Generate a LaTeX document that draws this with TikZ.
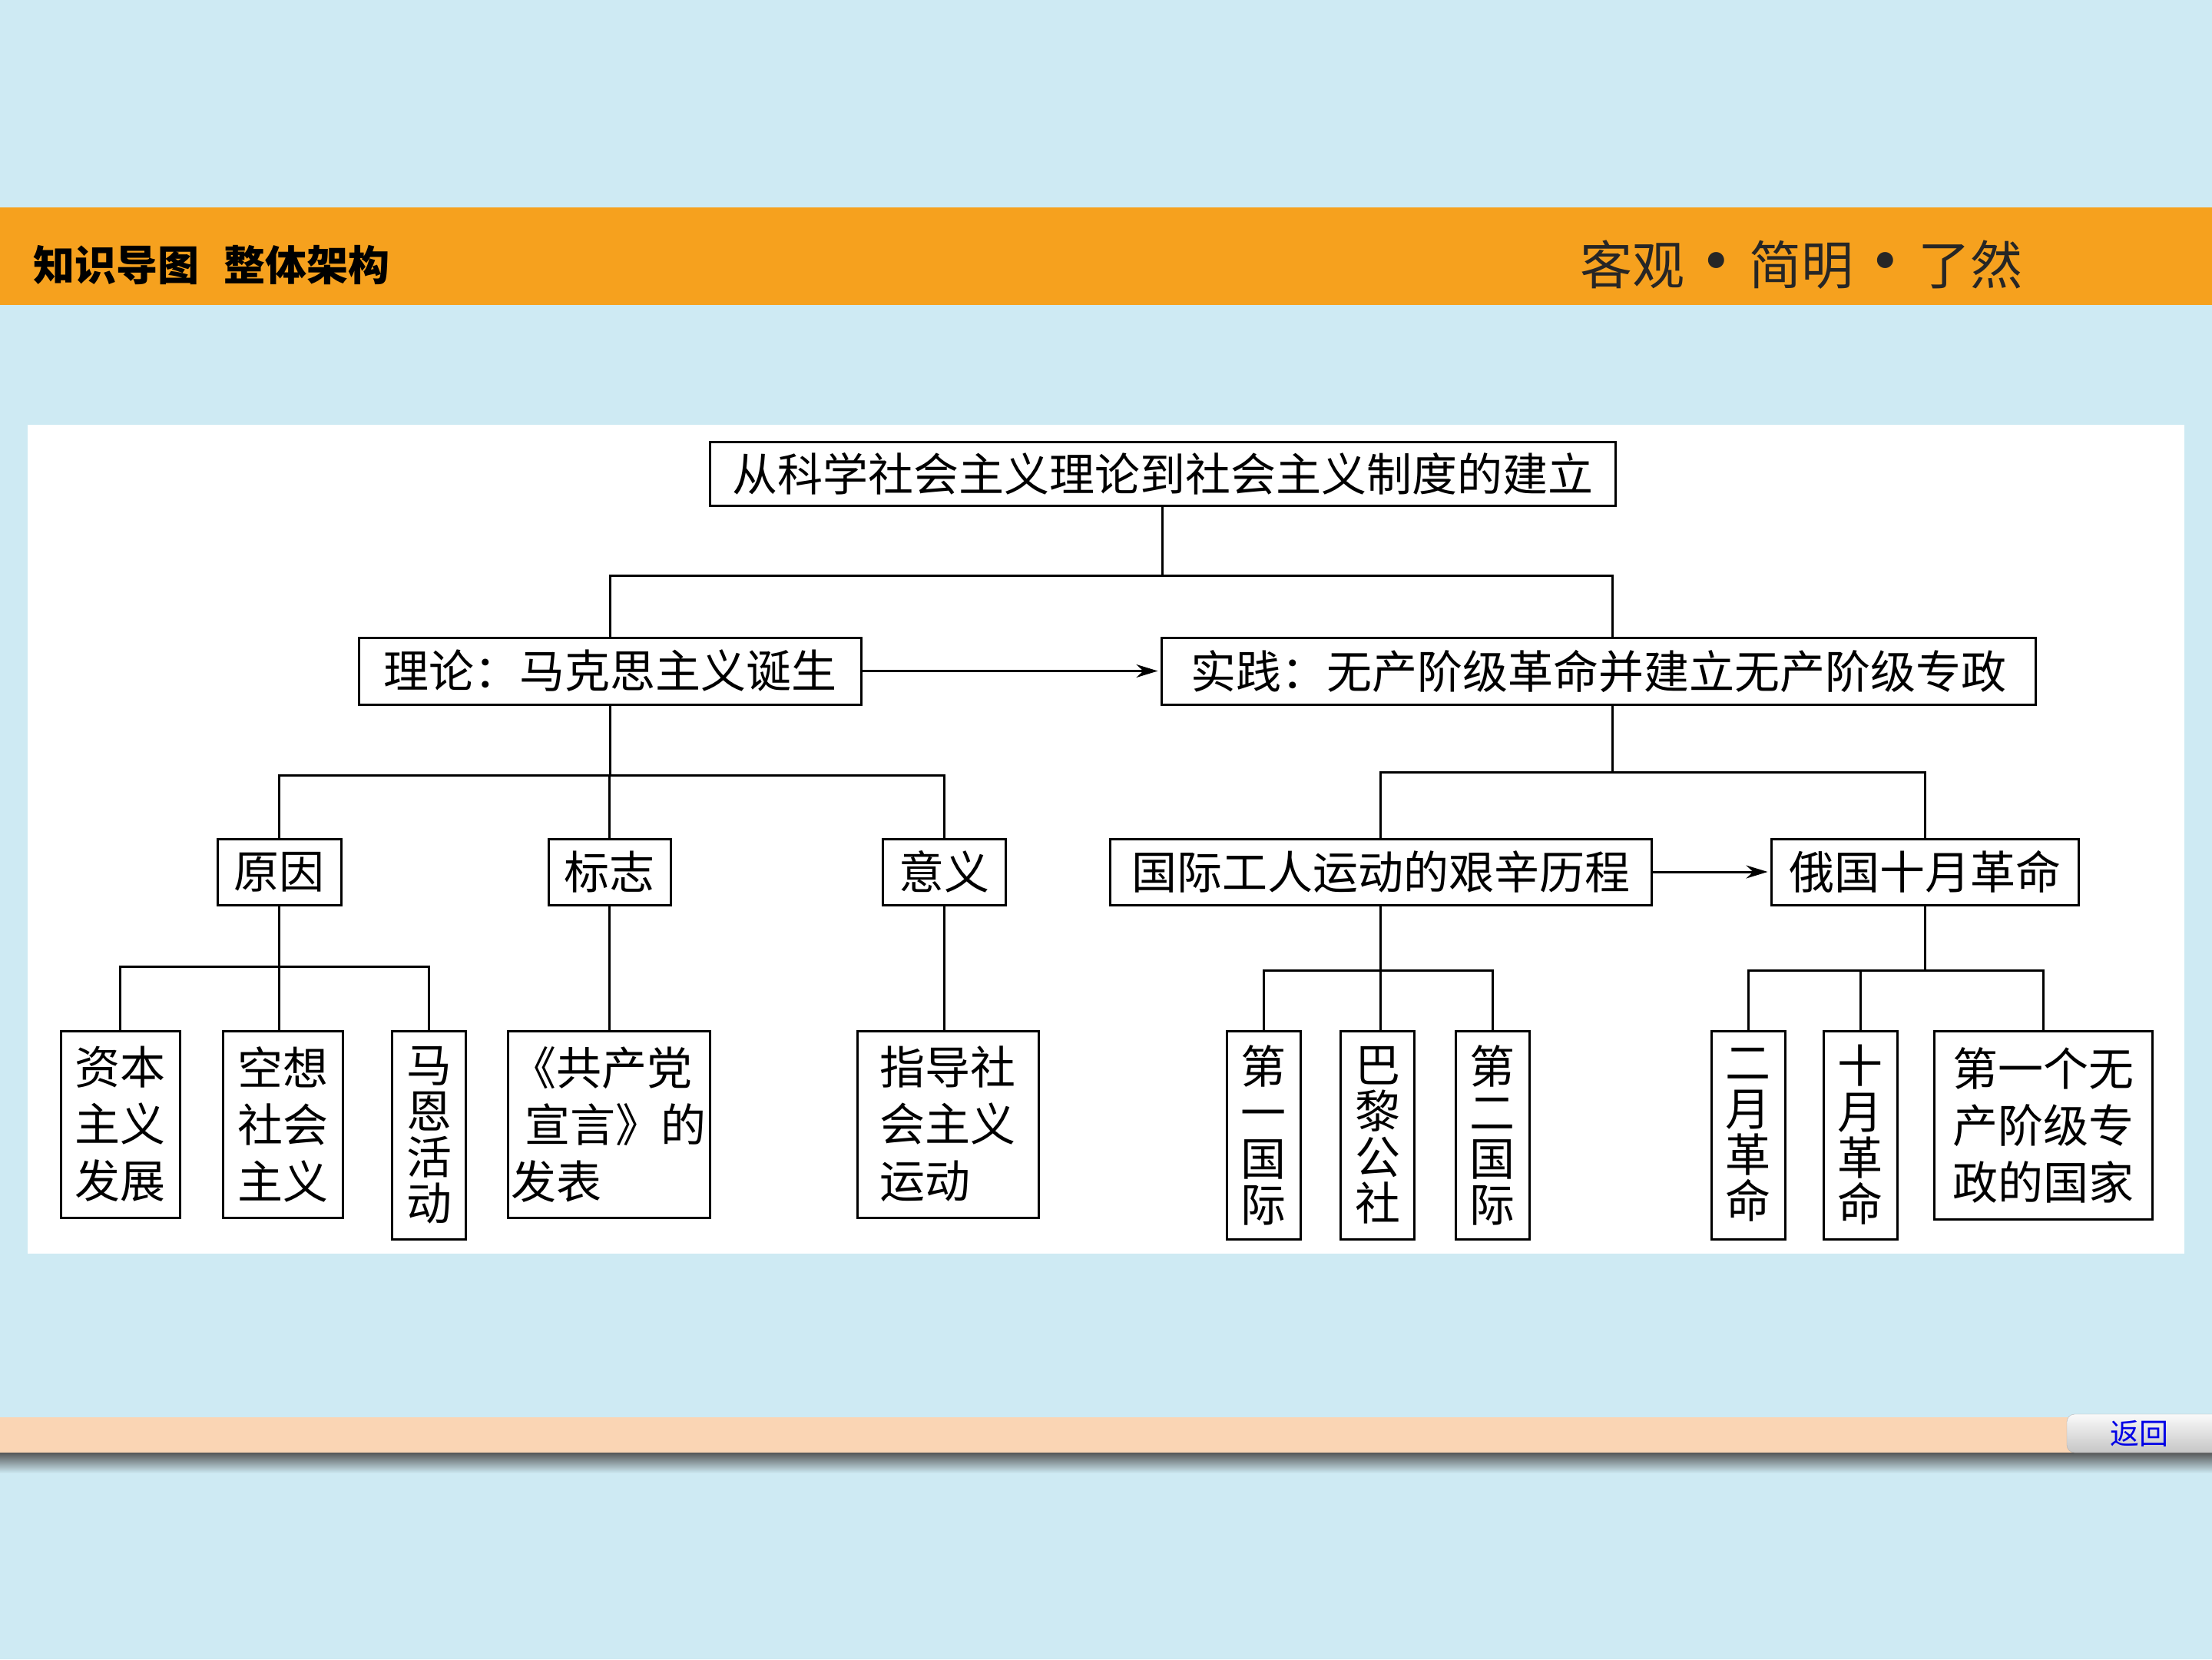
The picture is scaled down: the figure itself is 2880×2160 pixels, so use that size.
\documentclass[tikz,border=0pt]{standalone}
\usepackage{fontspec}
\newfontfamily\cjk{Noto Sans CJK SC}
\usepackage{xcolor}
\usepackage{tikz}
\usetikzlibrary{arrows.meta,positioning}

\definecolor{bgblue}{RGB}{206,234,243}
\definecolor{barorange}{RGB}{246,161,30}
\definecolor{barpeach}{RGB}{250,213,180}
\definecolor{linkblue}{RGB}{0,0,230}

\newcommand{\bigdot}{\makebox[68pt]{\raisebox{-6pt}{\scalebox{1.45}{•}}}}

\begin{document}
\begin{tikzpicture}[x=1pt,y=-1pt,
box/.style={draw, line width=3pt, inner sep=0pt, align=center, font=\cjk\fontsize{59}{74}\selectfont},
vbox/.style={box, font=\cjk\fontsize{59}{60}\selectfont, minimum width=96pt, minimum height=271pt},
link/.style={line width=3pt},
arrow/.style={-{Stealth[length=28pt,width=17pt]}, line width=3pt, shorten >=3pt}
]

% Slide background
\useasboundingbox (0,0) rectangle (2880,2160);
\fill[bgblue] (0,0) rectangle (2880,2160);
\fill[barorange] (0,270) rectangle (2880,397);
\fill[white] (36,553) rectangle (2844,1632);

% Header texts
\node[anchor=west, font=\cjk\bfseries\fontsize{54}{54}\selectfont] (title) at (40,345) {知识导图\hspace{32pt}整体架构};
\node[font=\cjk\fontsize{68}{68}\selectfont, text=black!85] (motto) at (2345,345) {客观\hspace{8pt}\bigdot\hspace{8pt}简明\hspace{8pt}\bigdot\hspace{8pt}了然};

% Top node
\node[box, minimum width=1179pt, minimum height=83pt] (top) at (1513.5,616.5) {从科学社会主义理论到社会主义制度的建立};

% Second level
\node[box, minimum width=654pt, minimum height=87pt] (theory) at (794,873.5) {理论：马克思主义诞生};
\node[box, minimum width=1138pt, minimum height=87pt] (practice) at (2081,873.5) {实践：无产阶级革命并建立无产阶级专政};

% Third level
\node[box, minimum width=161pt, minimum height=86pt] (yuanyin) at (363.5,1135) {原因};
\node[box, minimum width=159pt, minimum height=86pt] (biaozhi) at (793.5,1135) {标志};
\node[box, minimum width=160pt, minimum height=86pt] (yiyi) at (1229,1135) {意义};
\node[box, minimum width=705pt, minimum height=86pt] (gongren) at (1797.5,1135) {国际工人运动的艰辛历程};
\node[box, minimum width=400pt, minimum height=86pt] (eguo) at (2506,1135) {俄国十月革命};

% Fourth level (left)
\node[box, minimum width=155pt, minimum height=243pt] (ziben) at (156.5,1463.5) {资本\\主义\\发展};
\node[box, minimum width=156pt, minimum height=243pt] (kongxiang) at (368,1463.5) {空想\\社会\\主义};
\node[vbox] (maen) at (558.5,1477.5) {马\\恩\\活\\动};
\node[box, align=left, minimum width=263pt, minimum height=243pt] (xuanyan) at (792.5,1463.5) {《共产党\\\hspace*{18pt}宣言》的\\发表};
\node[box, align=left, minimum width=236pt, minimum height=243pt] (zhidao) at (1234,1463.5) {指导社\\会主义\\运动};

% Fourth level (right)
\node[vbox] (diyi) at (1645,1477.5) {第\\一\\国\\际};
\node[vbox] (bali) at (1793.5,1477.5) {巴\\黎\\公\\社};
\node[vbox] (dier) at (1943,1477.5) {第\\二\\国\\际};
\node[vbox] (eryue) at (2276,1477.5) {二\\月\\革\\命};
\node[vbox] (shiyue) at (2422,1477.5) {十\\月\\革\\命};
\node[box, minimum width=284pt, minimum height=245pt] (diyige) at (2660,1464.5) {第一个无\\产阶级专\\政的国家};

% Bus lines
\coordinate (b1) at (0,749);
\coordinate (b2) at (0,1009);
\coordinate (b3) at (0,1005);
\coordinate (b4) at (0,1258);
\coordinate (b5) at (0,1263);
\coordinate (pup) at ([xshift=18pt]practice.north);
\coordinate (pdown) at ([xshift=18pt]practice.south);

% Connectors
\draw[link] (top.south) -- (top.south |- b1);
\draw[link] (theory.north) |- (pup |- b1) -- (pup);
\draw[link] (theory.south) -- (theory.south |- b2);
\draw[link] (yuanyin.north) |- (b2 -| yiyi.north) -- (yiyi.north);
\draw[link] (biaozhi.north) -- (biaozhi.north |- b2);
\draw[link] (pdown) -- (pdown |- b3);
\draw[link] (gongren.north) |- (b3 -| eguo.north) -- (eguo.north);

\draw[link] (yuanyin.south) -- (yuanyin.south |- kongxiang.north);
\draw[link] (ziben.north) |- (b4 -| maen.north) -- (maen.north);
\draw[link] (biaozhi.south) -- (biaozhi.south |- xuanyan.north);
\draw[link] (yiyi.south) -- (yiyi.south |- zhidao.north);
\draw[link] (gongren.south) -- (gongren.south |- bali.north);
\draw[link] (diyi.north) |- (b5 -| dier.north) -- (dier.north);
\draw[link] (eguo.south) -- (eguo.south |- b5);
\draw[link] (eryue.north) |- (b5 -| diyige.north) -- (diyige.north);
\draw[link] (shiyue.north) -- (shiyue.north |- b5);

% Arrows
\draw[arrow] (theory) -- (practice);
\draw[arrow] (gongren) -- (eguo);

% Footer bar and button
\shade[top color=black!70, bottom color=bgblue] (0,1889) rectangle (2880,1918);
\fill[barpeach] (0,1845) rectangle (2700,1891);
\node[draw=gray!60, rounded corners=10pt, top color=white!96!gray, bottom color=gray!45,
  minimum width=199pt, minimum height=50pt, inner sep=0pt,
  font=\cjk\fontsize{38}{38}\selectfont, text=linkblue] (back) at (2790.5,1866) {\hspace*{-11pt}返回};

\end{tikzpicture}
\end{document}
